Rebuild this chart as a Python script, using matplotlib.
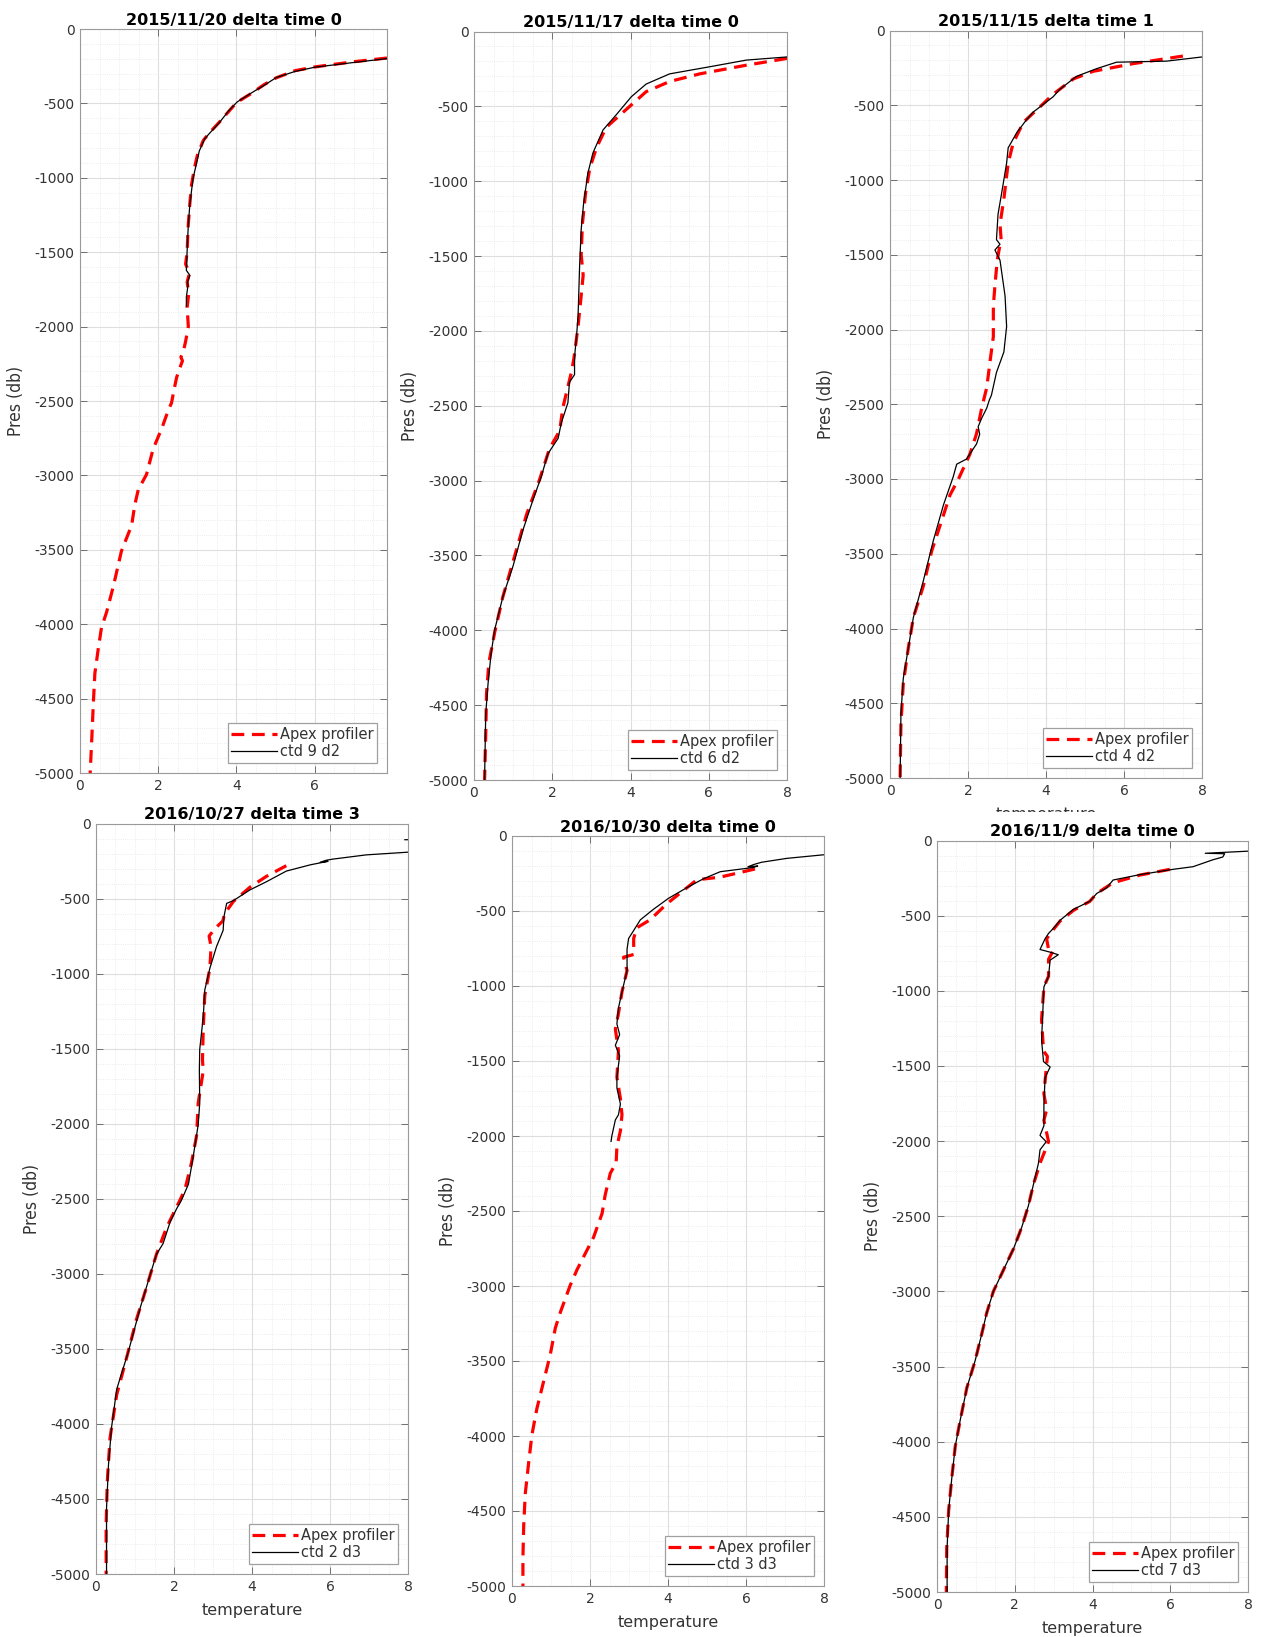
import numpy as np
import matplotlib
matplotlib.use("Agg")
import matplotlib.pyplot as plt
from matplotlib.patches import Rectangle

plt.rcParams['font.family'] = ['DejaVu Sans']
plt.rcParams['axes.unicode_minus'] = False

# temperature / pressure profiles, one pair of arrays per cast
apex1_t = [7.85, 7.0, 6.0, 5.5, 5.0, 4.7, 4.4, 4.0, 3.8, 3.55, 3.3, 3.15, 3.0, 2.93, 2.85, 2.8, 2.76, 2.74,
           2.70, 2.80, 2.74, 2.78, 2.74, 2.77, 2.70, 2.64, 2.58, 2.62, 2.55, 2.47, 2.40, 2.34, 2.26, 2.09,
           1.87, 1.70, 1.49, 1.40, 1.32, 1.06, 0.85, 0.68, 0.55, 0.47, 0.38, 0.34, 0.30, 0.26]
apex1_p = [-195, -220, -255, -280, -330, -375, -430, -495, -555, -630, -700, -750, -850, -930, -1050, -1200,
           -1350, -1500, -1580, -1640, -1700, -1780, -1870, -2000, -2100, -2170, -2205, -2230, -2280, -2342,
           -2430, -2513, -2560, -2685, -2822, -2994, -3096, -3199, -3336, -3508, -3748, -3919, -4022, -4159,
           -4331, -4537, -4777, -5000]
ctd1_t = [7.85, 7.0, 6.0, 5.5, 5.02, 4.7, 4.43, 4.02, 3.8, 3.57, 3.35, 3.19, 3.05, 2.98, 2.89, 2.81, 2.77,
          2.74, 2.72, 2.81, 2.75, 2.76, 2.72, 2.72]
ctd1_p = [-199, -225, -257, -285, -326, -380, -422, -490, -550, -627, -690, -737, -820, -902, -1005, -1176,
          -1313, -1485, -1622, -1656, -1700, -1725, -1800, -1862]

apex2_t = [8.0, 6.96, 5.77, 5.0, 4.4, 3.89, 3.38, 3.13, 2.96, 2.85, 2.77, 2.74, 2.79, 2.74, 2.66, 2.56, 2.49,
           2.27, 2.19, 1.93, 1.68, 1.34, 1.08, 0.74, 0.53, 0.38, 0.32, 0.30, 0.27]
apex2_p = [-180, -225, -283, -334, -402, -521, -640, -777, -913, -1083, -1287, -1492, -1628, -1764, -1969,
           -2173, -2275, -2514, -2667, -2786, -2990, -3229, -3467, -3774, -4012, -4217, -4421, -4693, -5000]
ctd2_t = [8.0, 6.96, 6.1, 5.0, 4.4, 4.02, 3.64, 3.3, 3.04, 2.91, 2.8, 2.74, 2.7, 2.66, 2.62, 2.57, 2.57, 2.44,
          2.4, 2.23, 2.15, 1.89, 1.72, 1.51, 1.25, 1.0, 0.74, 0.53, 0.44, 0.36, 0.3, 0.27]
ctd2_p = [-170, -191, -232, -283, -351, -436, -555, -657, -811, -947, -1151, -1321, -1560, -1900, -2037, -2173,
          -2292, -2343, -2480, -2616, -2718, -2820, -2973, -3127, -3331, -3569, -3774, -3995, -4149, -4353,
          -4557, -5000]

apex3_t = [7.51, 6.23, 5.21, 4.7, 4.18, 3.84, 3.42, 3.16, 3.03, 2.92, 2.82, 2.85, 2.82, 2.75, 2.69, 2.65, 2.65,
           2.58, 2.48, 2.35, 2.22, 2.05, 1.75, 1.54, 1.37, 1.07, 0.85, 0.6, 0.47, 0.34, 0.28, 0.26]
apex3_p = [-171, -222, -273, -324, -427, -512, -614, -751, -887, -1126, -1297, -1400, -1433, -1536, -1707,
           -1843, -2048, -2184, -2389, -2526, -2696, -2833, -3003, -3106, -3242, -3481, -3720, -3925, -4130,
           -4369, -4642, -5000]
ctd3_t = [8.0, 7.09, 5.81, 5.29, 4.78, 4.36, 4.18, 4.01, 3.67, 3.5, 3.25, 3.03, 2.99, 2.86, 2.77, 2.73, 2.82,
          2.69, 2.82, 2.95, 2.99, 2.92, 2.73, 2.60, 2.55, 2.48, 2.35, 2.26, 2.30, 2.22, 1.96, 1.71, 1.62, 1.37,
          1.11, 0.85, 0.6, 0.47, 0.34, 0.28, 0.26]
ctd3_p = [-177, -205, -212, -256, -307, -392, -444, -478, -546, -597, -683, -785, -887, -1092, -1229, -1399,
          -1430, -1468, -1536, -1775, -1980, -2150, -2287, -2440, -2470, -2526, -2594, -2650, -2700, -2765,
          -2867, -2901, -2986, -3174, -3413, -3686, -3925, -4130, -4335, -4573, -5000]

apex4_t = [4.88, 4.37, 3.95, 3.52, 3.3, 3.25, 3.05, 2.9, 2.95, 2.92, 2.79, 2.75, 2.73, 2.75, 2.62, 2.58, 2.45,
           2.28, 2.15, 1.81, 1.55, 1.3, 1.04, 0.79, 0.53, 0.36, 0.29, 0.26, 0.26]
apex4_p = [-281, -352, -424, -520, -600, -650, -700, -750, -820, -964, -1144, -1360, -1575, -1647, -1863, -2079,
           -2259, -2439, -2511, -2691, -2870, -3086, -3302, -3554, -3806, -4093, -4381, -4669, -5000]
ctd4_t = [8.0, 7.92, np.nan, 8.0, 6.93, 6.08, 5.9, 5.75, 5.95, 5.5, 4.88, 4.37, 3.95, 3.52, 3.35, 3.28, 3.26,
          3.09, 2.92, 2.79, 2.75, 2.66, 2.65, 2.66, 2.62, 2.49, 2.37, 2.19, 2.07, 1.9, 1.72, 1.55, 1.38, 1.13,
          0.83, 0.53, 0.4, 0.32, 0.27, 0.27]
ctd4_p = [-108, -108, np.nan, -191, -209, -237, -245, -258, -252, -275, -317, -388, -442, -514, -532, -622,
          -712, -820, -964, -1108, -1288, -1504, -1647, -1863, -2007, -2223, -2403, -2511, -2565, -2655, -2799,
          -2870, -3014, -3230, -3518, -3770, -4021, -4273, -4561, -5000]

apex5_t = [6.23, 5.34, 4.74, 4.31, 3.97, 3.54, 3.2, 3.12, 3.12, 2.86, 2.95, 2.82, 2.73, 2.65, 2.73, 2.69, 2.78,
           2.82, 2.78, 2.69, 2.67, 2.52, 2.39, 2.31, 2.09, 1.88, 1.67, 1.49, 1.24, 1.11, 0.98, 0.81, 0.64, 0.51,
           0.43, 0.34, 0.3, 0.28, 0.28]
apex5_p = [-220, -274, -292, -381, -452, -559, -612, -683, -790, -808, -897, -1039, -1182, -1288, -1431, -1609,
           -1751, -1858, -1965, -2071, -2178, -2249, -2392, -2516, -2676, -2783, -2890, -2997, -3175, -3281,
           -3459, -3637, -3815, -3993, -4171, -4385, -4598, -4812, -5000]
ctd5_t = [8.0, 7.05, 6.4, 6.2, 6.05, 6.3, 6.19, 5.34, 4.91, 4.48, 4.01, 3.63, 3.29, 3.12, 2.99, 2.95, 2.95,
          2.82, 2.73, 2.69, 2.76, 2.65, 2.76, 2.69, 2.69, 2.78, 2.73, 2.65, 2.56, 2.54]
ctd5_p = [-125, -149, -175, -190, -205, -200, -210, -238, -285, -345, -416, -488, -559, -630, -683, -755, -897,
          -1039, -1146, -1253, -1324, -1395, -1466, -1609, -1680, -1787, -1858, -1893, -2000, -2036]

apex6_t = [5.99, 5.22, 4.53, 4.11, 3.93, 3.51, 3.17, 3.0, 2.82, 2.87, 2.99, 2.87, 2.87, 2.75, 2.69, 2.74, 2.84,
           2.75, 2.82, 2.75, 2.87, 2.65, 2.48, 2.35, 2.18, 1.97, 1.71, 1.45, 1.28, 1.15, 0.98, 0.77, 0.6, 0.47,
           0.38, 0.3, 0.25, 0.24]
apex6_p = [-192, -230, -281, -352, -405, -465, -535, -590, -654, -725, -732, -790, -903, -974, -1190, -1400,
           -1436, -1685, -1791, -1862, -2004, -2147, -2289, -2431, -2573, -2715, -2857, -3000, -3142, -3284,
           -3462, -3639, -3853, -4030, -4243, -4457, -4706, -5000]
ctd6_t = [8.0, 7.45, 6.9, 7.4, 7.35, 7.1, 6.59, 6.07, 5.22, 4.53, 4.36, 4.11, 3.93, 3.51, 3.17, 3.0, 2.87, 2.78,
          2.65, 2.91, 3.12, 2.91, 2.87, 2.75, 2.72, 2.69, 2.74, 2.91, 2.78, 2.75, 2.75, 2.65, 2.81, 2.65, 2.61,
          2.48, 2.35, 2.18, 1.97, 1.71, 1.45, 1.28, 1.15, 0.98, 0.77, 0.6, 0.47, 0.38, 0.3, 0.26, 0.26]
ctd6_p = [-71, -78, -85, -88, -110, -128, -174, -192, -227, -263, -316, -352, -405, -458, -530, -583, -618,
          -654, -725, -743, -760, -796, -903, -974, -1151, -1329, -1471, -1507, -1578, -1756, -1898, -1962,
          -2004, -2058, -2147, -2289, -2431, -2573, -2715, -2857, -3000, -3142, -3284, -3462, -3639, -3853,
          -4030, -4243, -4457, -4706, -5000]

titles = ["2015/11/20 delta time 0", "2015/11/17 delta time 0", "2015/11/15 delta time 1",
          "2016/10/27 delta time 3", "2016/10/30 delta time 0", "2016/11/9 delta time 0"]
ctd_names = ["ctd 9 d2", "ctd 6 d2", "ctd 4 d2", "ctd 2 d3", "ctd 3 d3", "ctd 7 d3"]
temp_max = [7.85, 8, 8, 8, 8, 8]
apex = [(apex1_t, apex1_p), (apex2_t, apex2_p), (apex3_t, apex3_p),
        (apex4_t, apex4_p), (apex5_t, apex5_p), (apex6_t, apex6_p)]
ctd = [(ctd1_t, ctd1_p), (ctd2_t, ctd2_p), (ctd3_t, ctd3_p),
       (ctd4_t, ctd4_p), (ctd5_t, ctd5_p), (ctd6_t, ctd6_p)]

W, H = 1261, 1637
# axes boxes in pixels: left, right, top, bottom
boxes = [(80, 387, 29, 773), (474, 787, 31.5, 780), (890, 1202, 30.5, 778),
         (96, 408, 823.5, 1574), (512, 824, 836, 1586), (937, 1248, 840.5, 1592)]

fig = plt.figure(figsize=(W / 100, H / 100), dpi=100)
txt = '#333333'

for i in range(6):
    l, r, t, b = boxes[i]
    ax = fig.add_axes([l / W, 1 - b / H, (r - l) / W, (b - t) / H])
    ax.plot(apex[i][0], apex[i][1], color='red', lw=2.3, dashes=(4, 2.4), label='Apex profiler')
    ax.plot(ctd[i][0], ctd[i][1], color='black', lw=0.9, label=ctd_names[i])
    ax.set_xlim(0, temp_max[i])
    ax.set_ylim(-5000, 0)
    ax.set_xticks(np.arange(0, temp_max[i] + 0.01, 2))
    ax.set_yticks(np.arange(-5000, 1, 500))
    ax.set_xticks(np.arange(0, temp_max[i] + 0.01, 0.5), minor=True)
    ax.set_yticks(np.arange(-5000, 1, 100), minor=True)
    ax.grid(True, which='major', color='#dedede', lw=0.8)
    ax.grid(True, which='minor', color='#e6e6e6', lw=0.6, ls=':')
    ax.set_axisbelow(True)
    ax.tick_params(which='major', direction='in', length=5, width=0.7, color='#707070',
                   top=True, right=True, labelsize=10, labelcolor=txt, pad=4)
    ax.tick_params(which='minor', length=0)
    for s in ax.spines.values():
        s.set_color('#9a9a9a')
        s.set_linewidth(0.8)
    ax.set_title(titles[i], fontsize=11.5, fontweight='bold', pad=3)
    ax.set_ylabel('Pres (db)', fontsize=12.5, color=txt, fontstretch='condensed')
    ax.yaxis.set_label_coords(-55 / (r - l), 0.5)
    if i >= 2:
        ax.set_xlabel('temperature', fontsize=11.5, color=txt, labelpad=6.5)
    leg = ax.legend(loc='lower right', fontsize=10.5, frameon=True, fancybox=False,
                    handlelength=3.1, handletextpad=0.2, borderpad=0.25, labelspacing=0.15,
                    borderaxespad=0.7, framealpha=1)
    leg.get_frame().set_edgecolor('#a0a0a0')
    leg.get_frame().set_linewidth(0.9)
    for t_ in leg.get_texts():
        t_.set_color(txt)

# lower panel overlaps the bottom of the top-right temperature label
fig.patches.append(Rectangle((840 / W, 1 - 822 / H), 420 / W, 10 / H, transform=fig.transFigure,
                             facecolor='white', edgecolor='none', zorder=10))

fig.savefig('out.png', dpi=100, facecolor='white')
